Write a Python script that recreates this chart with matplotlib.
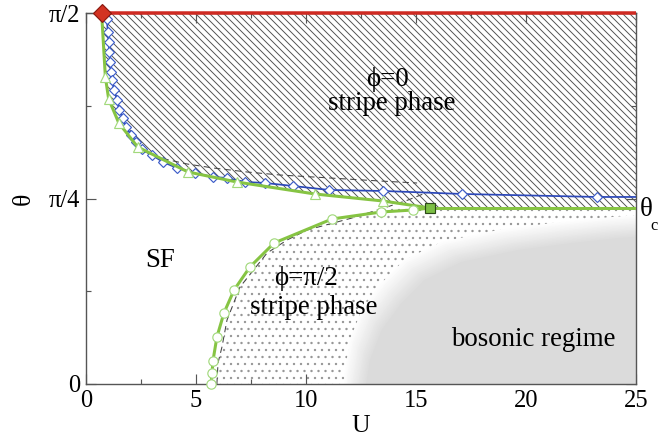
import numpy as np
import matplotlib
matplotlib.use("Agg")
import matplotlib.pyplot as plt

# ---------------- data ----------------
red_U = [0.71, 25.0]
red_theta = [np.pi / 2, np.pi / 2]

blue_U = [0.71, 0.95, 0.99, 1.03, 1.06, 1.09, 1.14, 1.18, 1.27, 1.41, 1.50, 1.66,
          1.82, 2.05, 2.27, 2.55, 3.0, 3.5, 4.14, 4.95, 5.77, 6.41, 7.23, 8.14,
          9.41, 11.05, 13.5, 17.09, 23.23, 25.0]
blue_theta = [1.5708, 1.5454, 1.4904, 1.448, 1.4057, 1.3633, 1.321, 1.2873, 1.245,
              1.2026, 1.1603, 1.1272, 1.0881, 1.0542, 1.0246, 0.995, 0.9696, 0.9399,
              0.9145, 0.8934, 0.8765, 0.8723, 0.8553, 0.8511, 0.8384, 0.8215, 0.8173,
              0.8046, 0.7919, 0.7919]

up_green_U = [0.71, 0.88, 1.03, 1.49, 2.35, 4.64, 6.86, 10.41, 13.5, 15.64]
up_green_theta = [1.5708, 1.2998, 1.2067, 1.1051, 1.0034, 0.8976, 0.8552, 0.8044,
                  0.7748, 0.7452]

low_green_U = [5.68, 5.73, 5.77, 5.95, 6.27, 6.73, 7.45, 8.55, 11.18, 13.41, 14.86, 15.64]
low_green_theta = [0.0, 0.0466, 0.0974, 0.199, 0.3006, 0.398, 0.4954, 0.597, 0.6986,
                   0.7282, 0.7367, 0.7452]

crit_U = [15.64]
crit_theta = [0.7452]

up_dash_U = [2.59, 3.36, 4.59, 5.77, 7.32, 8.82, 11.09, 13.36, 15.05]
up_dash_theta = [0.9865, 0.9569, 0.9316, 0.9147, 0.8976, 0.8849, 0.8722, 0.8595, 0.851]

low_dash_U = [5.95, 6.0, 6.18, 6.41, 7.0, 8.23, 9.14, 10.05, 12.09, 13.68, 14.64, 15.55]
low_dash_theta = [0.0, 0.0889, 0.1567, 0.271, 0.4107, 0.5546, 0.6097, 0.652, 0.7028,
                  0.7494, 0.779, 0.8129]

bos_U = [12.2, 12.45, 12.98, 13.88, 14.92, 16.6, 19.2, 21.6, 23.7, 25.0]
bos_theta = [0.0, 0.144, 0.271, 0.385, 0.483, 0.559, 0.610, 0.639, 0.660, 0.669]

x_ticks = [0, 5, 10, 15, 20, 25]
x_minor = [2.5, 7.5, 12.5, 17.5, 22.5]
y_ticks = [0, np.pi / 4, np.pi / 2]
y_ticklabels = ["0", "π/4", "π/2"]
y_minor = [np.pi / 8, 3 * np.pi / 8]

# ---------------- style ----------------
DPI = 84
plt.rcParams["font.family"] = ["Liberation Serif", "DejaVu Serif"]
plt.rcParams["hatch.linewidth"] = 0.8

fig = plt.figure(figsize=(660 / DPI, 437 / DPI), dpi=DPI)
ax = fig.add_axes([86 / 660, 53 / 437, 550 / 660, 371 / 437])
ax.set_xlim(0, 25)
ax.set_ylim(0, np.pi / 2)

theta_c = crit_theta[0]
xmax = 25.0

# hatched phi=0 stripe region (above the upper green boundary)
hx = list(up_green_U) + [xmax, xmax]
hy = list(up_green_theta) + [theta_c, np.pi / 2]
ax.fill(hx, hy, facecolor="none", edgecolor="#505050", hatch="\\\\\\\\", linewidth=0, zorder=1)

# dotted phi=pi/2 stripe region
ld_U = np.array(low_dash_U)
ld_t = np.array(low_dash_theta)
u_cross = np.interp(theta_c, ld_t, ld_U)
mask = ld_t < theta_c
dx = list(ld_U[mask]) + [u_cross, xmax, xmax]
dy = list(ld_t[mask]) + [theta_c, theta_c, 0.0]
ax.fill(dx, dy, facecolor="none", edgecolor="#959595", hatch="..", linewidth=0, zorder=1)

# bosonic regime: soft-edged gray region
bu = np.array(bos_U)
bt = np.array(bos_theta)
pxU = 25.0 / 550
pxT = (np.pi / 2) / 371
g = 0.86
shifts = np.linspace(-10, 10, 16)
for i, s in enumerate(shifts):
    lev = 1 - (1 - g) * (i + 1) / len(shifts)
    pu = list(bu + s * pxU) + [xmax + 2, xmax + 2]
    pt = list(bt - s * pxT) + [bt[-1] - s * pxT, -0.1]
    ax.fill(pu + [bu[0] + s * pxU], pt + [-0.1], color=(lev, lev, lev), linewidth=0, zorder=2)

# dashed lines
ax.plot(up_dash_U, up_dash_theta, color="#444444", lw=0.9, ls=(0, (6, 4)), zorder=3)
ax.plot(low_dash_U, low_dash_theta, color="#444444", lw=0.9, ls=(0, (6, 4)), zorder=3)

# blue line
ax.plot(blue_U, blue_theta, color="#2b47b8", lw=1.5, marker="D", ms=6,
        mfc="white", mec="#3c5cc8", mew=1.0, markevery=list(range(1, len(blue_U) - 1)),
        zorder=4)

# green lines
gcol = "#86c443"
gedge = "#a2d97c"
ax.plot(up_green_U, up_green_theta, color=gcol, lw=2.6, marker="^", ms=9,
        mfc="white", mec=gedge, mew=1.0, markevery=list(range(1, len(up_green_U) - 1)),
        zorder=5)
ax.plot(low_green_U, low_green_theta, color=gcol, lw=2.6, marker="o", ms=8,
        mfc="white", mec=gedge, mew=1.0, markevery=list(range(0, len(low_green_U) - 1)),
        zorder=5, clip_on=False)
ax.plot([crit_U[0], xmax], [theta_c, theta_c], color=gcol, lw=2.6, zorder=5)
ax.plot(crit_U, crit_theta, ls="none", marker="s", ms=9, mfc="#7cbf45", mec="#2d4a1a",
        mew=1.0, zorder=6)

# red line and diamond
ax.plot(red_U, red_theta, color="#cf2a22", lw=3.0, zorder=6, clip_on=False,
        solid_capstyle="butt")
ax.plot(red_U[:1], red_theta[:1], ls="none", marker="D", ms=11, mfc="#d33322",
        mec="#8a1a10", mew=1.0, zorder=7, clip_on=False)

# text labels
fs = 23
ax.text(0.549, 0.822, "ϕ=0", transform=ax.transAxes, ha="center", va="center", fontsize=fs, zorder=8)
ax.text(0.555, 0.755, "stripe phase", transform=ax.transAxes, ha="center", va="center", fontsize=fs, zorder=8)
ax.text(0.1345, 0.334, "SF", transform=ax.transAxes, ha="center", va="center", fontsize=fs, zorder=8)
ax.text(0.40, 0.285, "ϕ=π/2", transform=ax.transAxes, ha="center", va="center", fontsize=fs, zorder=8)
ax.text(0.4145, 0.205, "stripe phase", transform=ax.transAxes, ha="center", va="center", fontsize=fs, zorder=8)
ax.text(0.813, 0.121, "bosonic regime", transform=ax.transAxes, ha="center", va="center", fontsize=fs, zorder=8)

fig.text(646 / 660, 1 - 209 / 437, "θ", ha="center", va="center", fontsize=23)
fig.text(654 / 660, 1 - 226 / 437, "c", ha="center", va="center", fontsize=14)

# axes styling
ax.set_xticks(x_ticks)
ax.set_xticks(x_minor, minor=True)
ax.set_yticks(y_ticks)
ax.set_yticklabels(y_ticklabels)
ax.set_yticks(y_minor, minor=True)
ax.tick_params(which="both", direction="in", top=True, right=True, labelsize=21,
               color="#555555", width=1.0)
ax.tick_params(which="major", length=8.5, pad=5)
ax.tick_params(which="minor", length=4.3)
for sp in ax.spines.values():
    sp.set_color("#555555")
    sp.set_linewidth(1.2)

ax.set_xlabel("U", fontsize=22, labelpad=3)
ax.set_ylabel("θ", fontsize=22, labelpad=12)

fig.savefig("out.png", dpi=DPI)
